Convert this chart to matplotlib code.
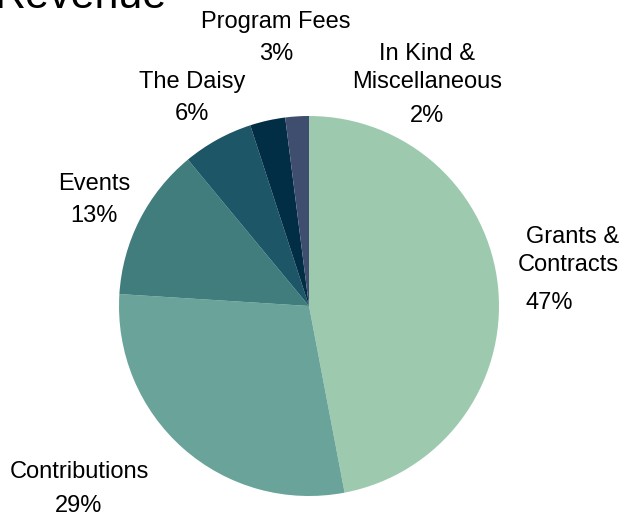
import matplotlib
matplotlib.use("Agg")
import matplotlib.pyplot as plt

plt.rcParams['font.family'] = ['Liberation Sans', 'DejaVu Sans']

# data
categories = ["Grants &\nContracts", "Contributions", "Events", "The Daisy",
              "Program Fees", "In Kind &\nMiscellaneous"]
shares = [47, 29, 13, 6, 3, 2]
colors = ["#9DCAAF", "#69A399", "#427D7E", "#1D5666", "#022E45", "#3F4E6E"]

# label layout, pixels from top-left: (name x, name y, pct x, pct y, align)
label_pos = [
    (619, 251, 549, 303, "right"),
    (79, 472, 79, 506, "center"),
    (94, 184, 94, 216, "center"),
    (192, 82, 192, 114, "center"),
    (276, 22, 276, 54, "center"),
    (427, 68, 427, 116, "center"),
]

W, H = 624, 518
fig = plt.figure(figsize=(W / 100, H / 100), dpi=100)
ax = fig.add_axes([0, 0, 1, 1])

ax.pie(shares, colors=colors, startangle=90, counterclock=False,
       center=(309, H - 306), radius=190, wedgeprops=dict(linewidth=0))
ax.set_xlim(0, W)
ax.set_ylim(0, H)
ax.set_aspect('auto')
ax.axis('off')

for name, val, (nx, ny, px, py, al) in zip(categories, shares, label_pos):
    ax.text(nx, H - ny, name, ha=al, va='center', multialignment=al,
            fontsize=17, linespacing=1.36, color='black')
    ax.text(px, H - py, f"{val}%", ha='center', va='center',
            fontsize=17, color='black')

ax.text(-6, H - 8, "Revenue", ha='left', va='baseline', fontsize=31, color='black')

fig.savefig("out.png", dpi=100)
